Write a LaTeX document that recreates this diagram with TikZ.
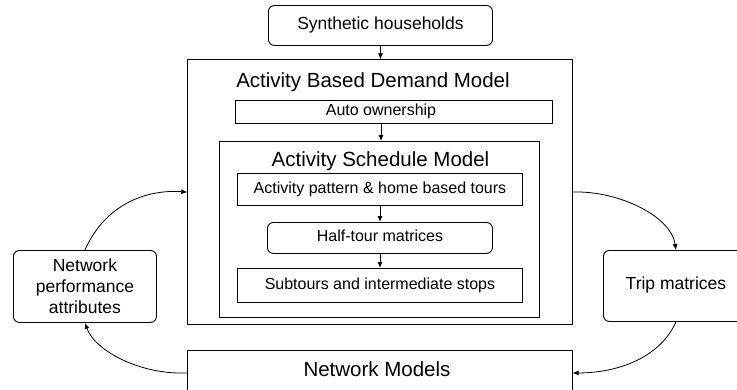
\documentclass[tikz,border=0pt]{standalone}
\usepackage{fontspec}
\setmainfont{Liberation Sans}
\usetikzlibrary{arrows.meta}
\begin{document}
\begin{tikzpicture}[x=1pt,y=-1pt,
  hbox/.style={draw, line width=0.9pt, inner sep=0pt, anchor=north west},
  rbox/.style={hbox, rounded corners=6pt},
  capline/.style={text height=0.72em, text depth=0pt},
  bodytext/.style={font=\fontsize{16}{19}\selectfont, capline},
  sidetext/.style={font=\fontsize{17.5}{21}\selectfont},
  titletext/.style={font=\fontsize{20.5}{24}\selectfont, inner sep=0pt, anchor=base},
  flow/.style={line width=0.8pt, -{Latex[length=6pt,width=5pt]}}]
\clip (0,0) rectangle (737,389);

% containers
\node[hbox, minimum width=384.4, minimum height=264.7] (abdm) at (187.3,59.3) {};
\node[titletext] (abdmtitle) at (373,87.3) {Activity Based Demand Model};
\node[hbox, minimum width=317, minimum height=23.3] (auto) at (235,100) {};
\node[bodytext, inner sep=0pt] (autotext) at (381,111.7) {Auto ownership};
\node[hbox, minimum width=320, minimum height=176] (asm) at (219.3,141) {};
\node[titletext] (asmtitle) at (380.5,166.7) {Activity Schedule Model};

% schedule steps
\node[hbox, minimum width=285, minimum height=32, bodytext] (pattern) at (237,173) {Activity pattern \& home based tours};
\node[rbox, minimum width=225, minimum height=31, bodytext] (half) at (267,222) {Half-tour matrices};
\node[hbox, minimum width=285, minimum height=34, bodytext] (sub) at (237,268) {Subtours and intermediate stops};

% inputs and outputs
\node[rbox, minimum width=224, minimum height=40, sidetext, capline] (synth) at (268,5) {Synthetic households};
\node[rbox, minimum width=143, minimum height=72, sidetext, align=center] (npa) at (13,250) {Network\\performance\\attributes};
\node[rbox, minimum width=145, minimum height=71, sidetext, capline] (trip) at (603,250) {Trip matrices};
\node[hbox, minimum width=384.4, minimum height=45] (netm) at (187.3,350) {};
\node[titletext] (netmtitle) at (377,376.7) {Network Models};

% straight flows
\draw[flow] (synth.south) -- (synth.south |- abdm.north);
\draw[flow] (autotext |- auto.south) -- (autotext |- asm.north);
\draw[flow] (pattern.south) -- (half.north);
\draw[flow] (half.south) -- (sub.north);

% feedback loop
\draw[flow] (npa.north) .. controls +(20,-45) and +(-42,-3) .. (abdm.west);
\draw[flow] (abdm.east) .. controls +(43,-2) and +(-5,-35) .. (trip.north);
\draw[flow] (trip.south) .. controls +(-15,34) and +(48,0) .. (netm.east);
\draw[flow] (netm.west) .. controls +(-47,2) and +(10,28) .. (npa.south);
\end{tikzpicture}
\end{document}
